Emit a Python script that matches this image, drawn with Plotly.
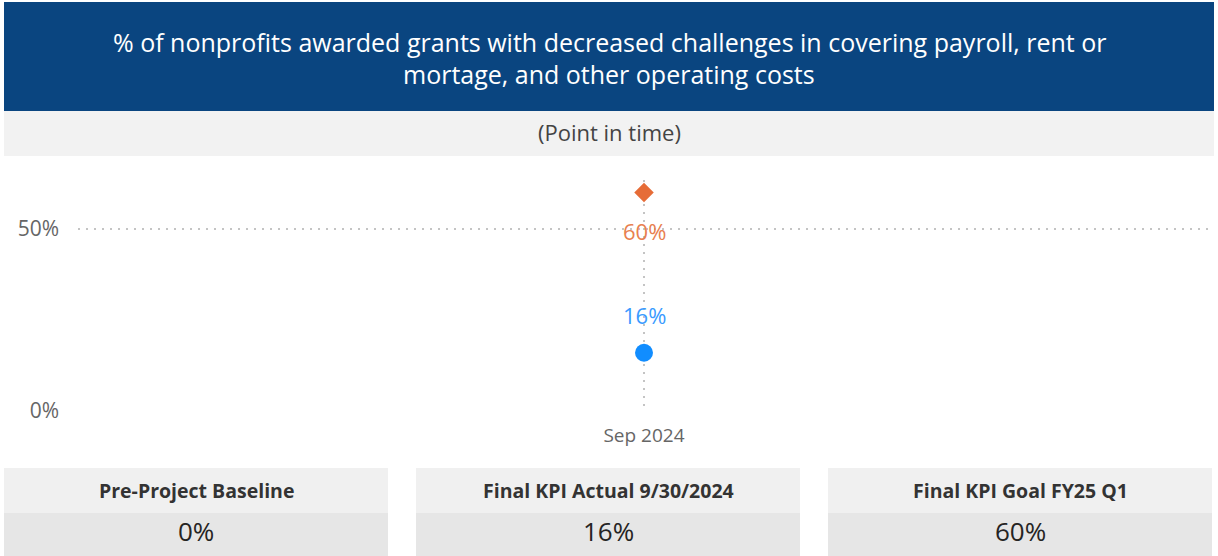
import plotly.graph_objects as go

# data
categories = ["Sep 2024"]
kpi_actual = [16]
kpi_goal = [60]
card_labels = ["Pre-Project Baseline", "Final KPI Actual 9/30/2024", "Final KPI Goal FY25 Q1"]
card_values = ["0%", "16%", "60%"]
y_ticks = [0, 50]

title_lines = [
    "% of nonprofits awarded grants with decreased challenges in covering payroll, rent or",
    "mortage, and other operating costs",
]
subtitle = "(Point in time)"

W, H = 1218, 556          # reference canvas (pixel positions below are read in this space)
FIG_H = 569               # rendered page comes out ~2.3% squashed vertically, so compensate
FONT = "Segoe UI, Open Sans, sans-serif"
BLUE = "#118DFF"
ORANGE = "#E66C37"


def py(px):
    # reference pixel row -> paper y
    return 1 - px / H


def px_x(px):
    return px / W


fig = go.Figure()

fig.add_trace(go.Scatter(
    x=categories, y=kpi_goal,
    mode="markers",
    marker=dict(symbol="diamond", size=15, color=ORANGE),
    showlegend=False, hoverinfo="skip",
))
fig.add_trace(go.Scatter(
    x=categories, y=kpi_actual,
    mode="markers",
    marker=dict(symbol="circle", size=18, color=BLUE),
    showlegend=False, hoverinfo="skip",
))

shapes = []
annotations = []

# data labels
for c, v in zip(categories, kpi_goal):
    annotations.append(dict(text=f"{v}%", x=c, y=v, xref="x", yref="y", yshift=-38,
                            showarrow=False, xanchor="center", yanchor="middle",
                            font=dict(color="#E8804F", size=22, family=FONT)))
for c, v in zip(categories, kpi_actual):
    annotations.append(dict(text=f"{v}%", x=c, y=v, xref="x", yref="y", yshift=38,
                            showarrow=False, xanchor="center", yanchor="middle",
                            font=dict(color="#3A9BFF", size=22, family=FONT)))

# title banner
shapes.append(dict(type="rect", xref="paper", yref="paper",
                   x0=px_x(4), x1=px_x(1214), y0=py(111), y1=py(2),
                   fillcolor="#0A4580", line_width=0, layer="below"))
for i, line in enumerate(title_lines):
    annotations.append(dict(text=line, x=0.5, y=py(42 + 32 * i), xref="paper", yref="paper",
                            showarrow=False, xanchor="center", yanchor="middle",
                            font=dict(color="white", size=25, family=FONT)))

# subtitle band
shapes.append(dict(type="rect", xref="paper", yref="paper",
                   x0=px_x(4), x1=px_x(1214), y0=py(156), y1=py(111),
                   fillcolor="#F2F2F2", line_width=0, layer="below"))
annotations.append(dict(text=subtitle, x=0.5, y=py(132), xref="paper", yref="paper",
                        showarrow=False, xanchor="center", yanchor="middle",
                        font=dict(color="#444444", size=22, family=FONT)))

# KPI cards
card_x = [(4, 388), (416, 800), (828, 1212)]
for (x0, x1), lab, val in zip(card_x, card_labels, card_values):
    shapes.append(dict(type="rect", xref="paper", yref="paper",
                       x0=px_x(x0), x1=px_x(x1), y0=py(513), y1=py(468),
                       fillcolor="#F0F0F0", line_width=0, layer="below"))
    shapes.append(dict(type="rect", xref="paper", yref="paper",
                       x0=px_x(x0), x1=px_x(x1), y0=py(556), y1=py(513),
                       fillcolor="#E6E6E6", line_width=0, layer="below"))
    xc = px_x((x0 + x1) / 2)
    annotations.append(dict(text=f"<b>{lab}</b>", x=xc, y=py(490), xref="paper", yref="paper",
                            showarrow=False, xanchor="center", yanchor="middle",
                            font=dict(color="#333333", size=19.5, family=FONT)))
    annotations.append(dict(text=val, x=xc, y=py(531), xref="paper", yref="paper",
                            showarrow=False, xanchor="center", yanchor="middle",
                            font=dict(color="#252423", size=26, family=FONT)))

fig.update_layout(
    width=W, height=FIG_H,
    autosize=False,
    margin=dict(l=0, r=0, t=0, b=0),
    paper_bgcolor="white",
    plot_bgcolor="white",
    shapes=shapes,
    annotations=annotations,
    font=dict(family=FONT),
)

fig.update_xaxes(
    domain=[px_x(78), px_x(1210)],
    range=[-0.5, 0.5],
    showgrid=True, gridcolor="#C4C4C4", griddash="2px,6px", gridwidth=1.5,
    showline=False, zeroline=False, ticks="",
    tickfont=dict(color="#666666", size=19, family=FONT),
    ticklabelstandoff=11,
)
fig.update_yaxes(
    domain=[py(411), py(180)],
    range=[0, 231 / 3.64],
    tickvals=y_ticks, ticktext=[f"{t}%" for t in y_ticks],
    showgrid=True, gridcolor="#C4C4C4", griddash="2px,6px", gridwidth=1.5,
    showline=False, zeroline=False, ticks="",
    tickfont=dict(color="#666666", size=21, family=FONT),
    ticklabelstandoff=18,
)

# drop the default body margin so the figure starts at the page corner
page_fix = "document.body.style.margin='0px';"
fig.write_html("out.html", config={"displayModeBar": False, "responsive": False},
               post_script=page_fix)
